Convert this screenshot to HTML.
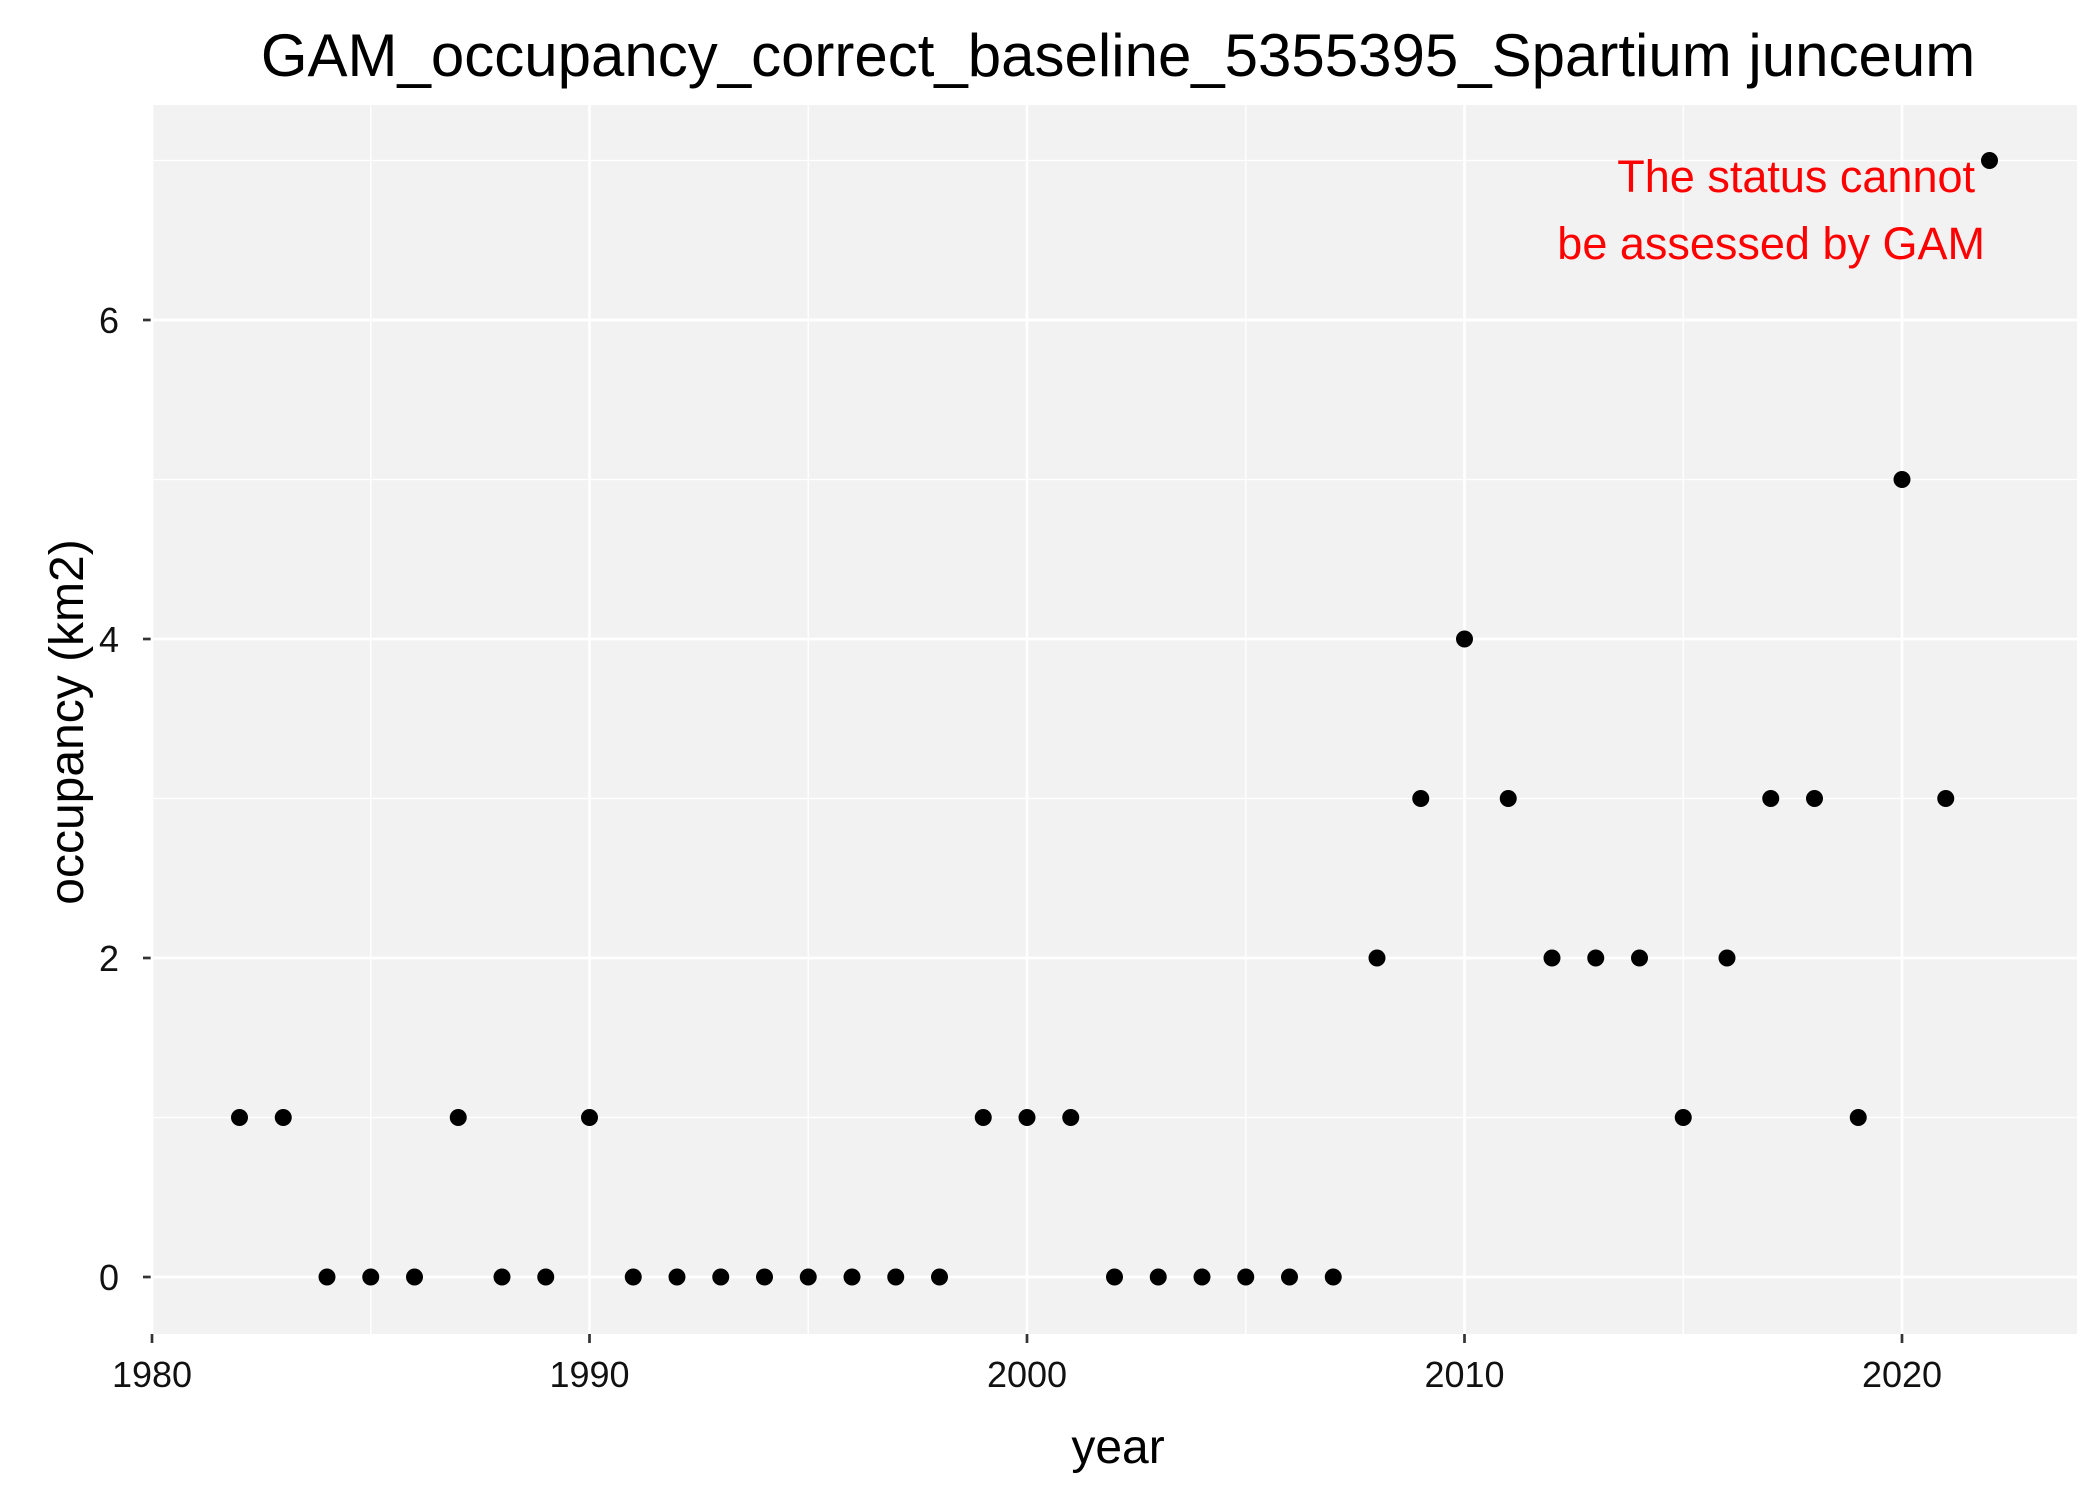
<!DOCTYPE html>
<html><head><meta charset="utf-8"><style>
html,body{margin:0;padding:0;background:#fff;}
svg{display:block;font-family:"Liberation Sans",Arial,sans-serif;}
</style></head><body>
<svg id="chart" width="2100" height="1499" xmlns="http://www.w3.org/2000/svg">
<rect x="0" y="0" width="2100" height="1499" fill="#fff"/>
<text x="1118" y="76" font-size="60" text-anchor="middle" fill="#000">GAM_occupancy_correct_baseline_5355395_Spartium junceum</text>
<g id="plot"></g>
<text x="1118" y="1463" font-size="48" text-anchor="middle" fill="#000">year</text>
<text transform="translate(83,722) rotate(-90)" font-size="48" text-anchor="middle" fill="#000">occupancy (km2)</text>
</svg>
<script>
const years = [1982,1983,1984,1985,1986,1987,1988,1989,1990,1991,1992,1993,1994,1995,1996,1997,1998,1999,2000,2001,2002,2003,2004,2005,2006,2007,2008,2009,2010,2011,2012,2013,2014,2015,2016,2017,2018,2019,2020,2021,2022];
const occupancy = [1,1,0,0,0,1,0,0,1,0,0,0,0,0,0,0,0,1,1,1,0,0,0,0,0,0,2,3,4,3,2,2,2,1,2,3,3,1,5,3,7];
const xTicks = [1980,1990,2000,2010,2020];
const xMinor = [1985,1995,2005,2015];
const yTicks = [0,2,4,6];
const yMinor = [1,3,5,7];

const L=152,R=2077,T=105,B=1334;
const X0=1980,XS=43.75,Y0=1277,YS=159.5;
function xs(v){return L+(v-X0)*XS;}
function ys(v){return Y0-v*YS;}
const NS="http://www.w3.org/2000/svg";
const g=document.getElementById('plot');
function mk(tag,attrs){const e=document.createElementNS(NS,tag);for(const k in attrs)e.setAttribute(k,attrs[k]);g.appendChild(e);return e;}

let p=mk('rect',{x:L,y:T,width:R-L,height:B-T,fill:'#f2f2f2'});



yMinor.forEach(v=>{const e=mk('line',{x1:L,x2:R,y1:ys(v),y2:ys(v),stroke:'#fff','stroke-width':1.3});

});
xMinor.forEach(v=>{const e=mk('line',{x1:xs(v),x2:xs(v),y1:T,y2:B,stroke:'#fff','stroke-width':1.3});

});
yTicks.forEach(v=>{const e=mk('line',{x1:L,x2:R,y1:ys(v),y2:ys(v),stroke:'#fff','stroke-width':2.7});


const t=mk('line',{x1:L-9,x2:L,y1:ys(v),y2:ys(v),stroke:'#333','stroke-width':2.7});


const l=mk('text',{x:L-33,y:ys(v)+13,'font-size':36,'text-anchor':'end',fill:'#111'});l.textContent=v;

});
xTicks.forEach(v=>{const e=mk('line',{x1:xs(v),x2:xs(v),y1:T,y2:B,stroke:'#fff','stroke-width':2.7});


const t=mk('line',{x1:xs(v),x2:xs(v),y1:B,y2:B+9,stroke:'#333','stroke-width':2.7});


const l=mk('text',{x:xs(v),y:B+53,'font-size':36,'text-anchor':'middle',fill:'#111'});l.textContent=v;

});

years.forEach((yr,i)=>{const c=mk('circle',{cx:xs(yr),cy:ys(occupancy[i]),r:8.5,fill:'#000'});

});

const a1=mk('text',{x:1975,y:192,'font-size':45,'text-anchor':'end',fill:'#ff0000'});a1.textContent='The status cannot';


const a2=mk('text',{x:1985,y:259,'font-size':45,'text-anchor':'end',fill:'#ff0000'});a2.textContent='be assessed by GAM';


</script>
</body></html>
